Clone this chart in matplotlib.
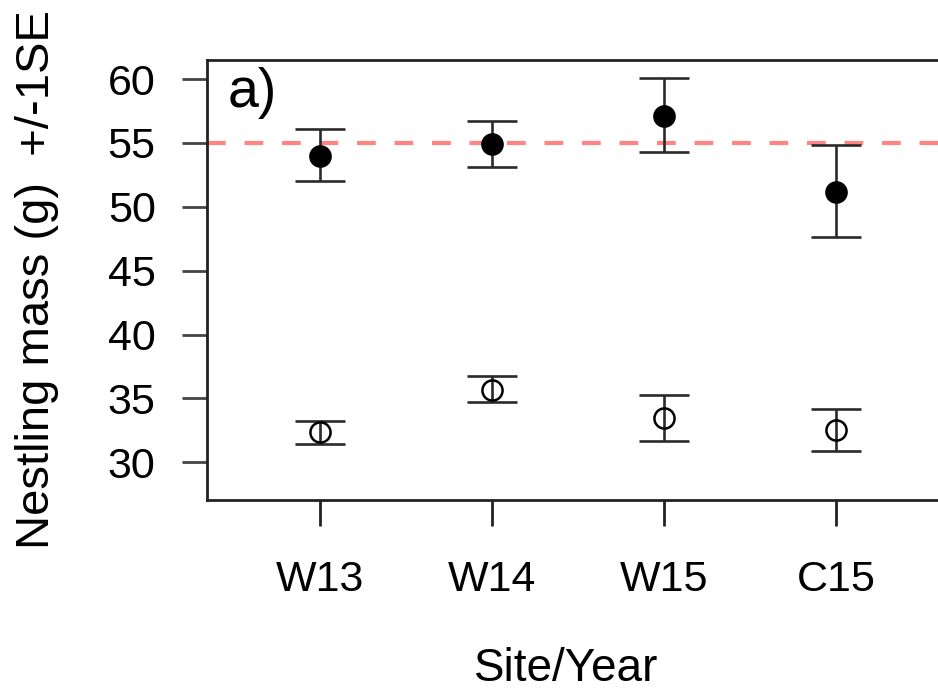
import numpy as np
import matplotlib
matplotlib.use("Agg")
from matplotlib import pyplot as plt

plt.rcParams['font.family'] = ['Liberation Sans', 'DejaVu Sans']

# dane
sites = ["W13", "W14", "W15", "C15"]
filled_mean = [54.0, 54.9, 57.15, 51.2]
filled_hi = [56.1, 56.75, 60.05, 54.85]
filled_lo = [52.0, 53.1, 54.3, 47.6]
open_mean = [32.35, 35.7, 33.5, 32.5]
open_hi = [33.25, 36.75, 35.25, 34.15]
open_lo = [31.4, 34.75, 31.7, 30.85]
ref_line = 55
yticks = [30, 35, 40, 45, 50, 55, 60]

x = np.arange(1, len(sites) + 1)

fig = plt.figure(figsize=(9.38, 6.93), dpi=100)
ax = fig.add_axes([0.2207, 0.2785, 0.79, 0.635])

ax.axhline(ref_line, color='#ff7070', lw=3, ls=(0, (4.5, 4.5)), alpha=0.85, zorder=1)

for mean, lo, hi, face in [(filled_mean, filled_lo, filled_hi, 'black'),
                           (open_mean, open_lo, open_hi, 'none')]:
    mean = np.array(mean)
    yerr = [mean - np.array(lo), np.array(hi) - mean]
    ax.errorbar(x, mean, yerr=yerr, fmt='none', ecolor='#2a2a2a', elinewidth=1.9,
                capsize=18, capthick=1.9, zorder=2)
    ax.plot(x, mean, 'o', ms=14.5, mfc=face, mec='black', mew=1.8, ls='none', zorder=3)

ax.set_xlim(0.34, 4.65)
ax.set_ylim(27.05, 61.5)
ax.set_yticks(yticks)
ax.set_xticks(x)
ax.set_xticklabels(sites)

for s in ['left', 'top', 'bottom', 'right']:
    ax.spines[s].set_linewidth(2)
    ax.spines[s].set_color('#222222')

ax.tick_params(axis='y', length=18, width=2, color='#444444', labelsize=31, pad=19)
ax.tick_params(axis='x', length=19, width=2, color='#222222', labelsize=31, pad=24)

ax.set_xlabel("Site/Year", fontsize=33)
ax.set_ylabel("Nestling mass (g)  +/-1SE", fontsize=34)
ax.xaxis.set_label_coords(0.485, -0.335)
ax.yaxis.set_label_coords(-0.2, 0.5)

ax.text(0.028, 0.985, "a)", transform=ax.transAxes, fontsize=40, ha='left', va='top')

fig.savefig("out.png", dpi=100)
